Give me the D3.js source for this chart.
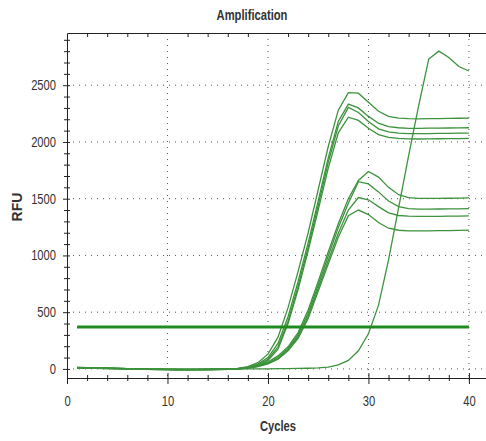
<!DOCTYPE html>
<html lang="en">
<head>
    <meta charset="UTF-8">
    <title>Amplification</title>
    <script src="https://d3js.org/d3.v7.min.js"></script>
    <style>
        body {
            margin: 0;
            background: #fff;
        }
        svg text {
            font-family: "Liberation Sans", Arial, sans-serif;
            fill: #333;
        }
        .grid line {
            stroke: #555;
            stroke-dasharray: 1, 5;
        }
        .axis path, .axis line {
            stroke: #222;
        }
        .curve {
            fill: none;
            stroke: #3d923d;
            stroke-width: 1.3;
        }
    </style>
</head>
<body>
    <svg id="chart" width="486" height="441"></svg>

    <script>
        // Cycle numbers (x values)
        const cycles = [1, 2, 3, 4, 5, 6, 7, 8, 9, 10, 11, 12, 13, 14, 15, 16, 17, 18, 19, 20,
                        21, 22, 23, 24, 25, 26, 27, 28, 29, 30, 31, 32, 33, 34, 35, 36, 37, 38, 39, 40];

        // Early group (plateau ~2000-2200)
        const curveA1 = [10, 9, 8, 6, 4, 2, 0, -2, -4, -5, -6, -6, -6, -5, -4, -2,
                         5, 20, 55, 130, 280, 540, 860, 1200, 1580, 1960, 2280, 2435, 2430, 2350,
                         2270, 2225, 2210, 2205, 2204, 2205, 2206, 2207, 2209, 2210];
        const curveA2 = [14, 12, 10, 7, 5, 3, 1, -1, -3, -4, -5, -6, -5, -5, -3, -1,
                         3, 15, 42, 100, 225, 460, 770, 1110, 1480, 1860, 2180, 2333, 2300, 2225,
                         2165, 2135, 2125, 2120, 2120, 2121, 2122, 2123, 2124, 2125];
        const curveA3 = [8, 8, 7, 5, 3, 1, -1, -3, -4, -6, -7, -7, -7, -6, -5, -3,
                         2, 12, 35, 85, 195, 420, 730, 1070, 1440, 1820, 2140, 2305, 2260, 2180,
                         2115, 2088, 2078, 2074, 2073, 2074, 2075, 2076, 2077, 2078];
        const curveA4 = [12, 10, 8, 6, 4, 2, 0, -2, -3, -4, -5, -5, -5, -4, -3, -2,
                         1, 10, 30, 75, 175, 400, 700, 1040, 1400, 1770, 2080, 2218, 2190, 2120,
                         2065, 2040, 2031, 2027, 2026, 2027, 2028, 2029, 2030, 2031];

        // Middle group (plateau ~1200-1500)
        const curveB1 = [9, 8, 6, 4, 2, 0, -2, -3, -5, -6, -6, -7, -6, -5, -4, -2,
                         2, 12, 30, 60, 115, 195, 320, 520, 770, 1030, 1280, 1500, 1660, 1740,
                         1690, 1600, 1535, 1510, 1503, 1502, 1503, 1504, 1505, 1507];
        const curveB2 = [11, 10, 8, 6, 4, 2, 0, -1, -3, -4, -5, -5, -5, -4, -3, -1,
                         1, 10, 25, 52, 100, 180, 300, 490, 740, 995, 1245, 1460, 1650, 1630,
                         1560, 1480, 1430, 1413, 1408, 1408, 1409, 1410, 1411, 1412];
        const curveB3 = [7, 6, 5, 3, 1, -1, -3, -4, -6, -7, -8, -8, -7, -6, -5, -3,
                         1, 8, 22, 48, 90, 170, 285, 465, 710, 955, 1195, 1400, 1510, 1490,
                         1430, 1375, 1352, 1346, 1344, 1344, 1345, 1346, 1347, 1348];
        const curveB4 = [13, 11, 9, 7, 5, 3, 1, -1, -2, -3, -4, -4, -4, -3, -2, -1,
                         1, 8, 20, 44, 85, 160, 270, 445, 685, 925, 1160, 1350, 1400, 1360,
                         1290, 1240, 1222, 1217, 1216, 1217, 1218, 1219, 1221, 1223];

        // Late sample
        const curveLate = [5, 5, 4, 3, 2, 1, 0, -1, -2, -3, -3, -3, -3, -2, -2, -1,
                           -1, 0, 0, 1, 2, 3, 4, 6, 9, 15, 35, 75, 160, 310,
                           560, 960, 1420, 1880, 2320, 2730, 2800, 2745, 2665, 2625];

        const seriesList = [curveA1, curveA2, curveA3, curveA4, curveB1, curveB2, curveB3, curveB4, curveLate];

        // Threshold line
        const thresholdValue = 370;
        const thresholdCycles = [1, 40];

        // Tick values
        const xMajorTicks = [0, 10, 20, 30, 40];
        const xMinorTicks = [2, 4, 6, 8, 12, 14, 16, 18, 22, 24, 26, 28, 32, 34, 36, 38, 40];
        const yMajorTicks = [0, 500, 1000, 1500, 2000, 2500];
        const yMinorTicks = [100, 200, 300, 400, 600, 700, 800, 900, 1100, 1200, 1300, 1400,
                             1600, 1700, 1800, 1900, 2100, 2200, 2300, 2400, 2600, 2700, 2800, 2900];

        const plotLeft = 67, plotRight = 486, plotTop = 33, plotBottom = 378;
        const narrow = 0.8; // horizontal squeeze for the condensed look of the labels

        const x = d3.scaleLinear().domain([0, 41.7]).range([plotLeft, plotRight]);
        const y = d3.scaleLinear().domain([-80, 2960]).range([plotBottom, plotTop]);

        const svg = d3.select("#chart");

        // Dotted grid
        const grid = svg.append("g").attr("class", "grid");
        grid.selectAll("line.v")
            .data(xMajorTicks.slice(1))
            .enter().append("line")
            .attr("x1", d => x(d)).attr("x2", d => x(d))
            .attr("y1", plotTop).attr("y2", plotBottom);
        grid.selectAll("line.h")
            .data(yMajorTicks)
            .enter().append("line")
            .attr("x1", plotLeft).attr("x2", plotRight)
            .attr("y1", d => y(d)).attr("y2", d => y(d));

        // Top frame line with small ticks
        svg.append("g")
            .attr("class", "axis")
            .attr("transform", `translate(0,${plotTop})`)
            .call(d3.axisBottom(x).tickValues(xMinorTicks).tickSize(4).tickFormat("").tickSizeOuter(0));

        // Minor ticks crossing the axes
        svg.append("g")
            .attr("class", "axis")
            .attr("transform", `translate(0,${plotBottom - 3})`)
            .call(d3.axisBottom(x).tickValues(xMinorTicks).tickSize(6).tickFormat(""))
            .select(".domain").remove();
        svg.append("g")
            .attr("class", "axis")
            .attr("transform", `translate(${plotLeft + 3},0)`)
            .call(d3.axisLeft(y).tickValues(yMinorTicks).tickSize(6).tickFormat(""))
            .select(".domain").remove();

        // Bottom axis with labels
        const xAxis = svg.append("g")
            .attr("class", "axis")
            .attr("transform", `translate(0,${plotBottom})`)
            .call(d3.axisBottom(x).tickValues(xMajorTicks).tickSize(6).tickPadding(12)
                .tickFormat(d3.format("d")).tickSizeOuter(0));
        xAxis.selectAll(".tick line").attr("y1", -5);
        xAxis.selectAll("text")
            .style("font-size", "14px")
            .attr("transform", `scale(${narrow},1)`);

        // Left axis with labels
        const yAxis = svg.append("g")
            .attr("class", "axis")
            .attr("transform", `translate(${plotLeft},0)`)
            .call(d3.axisLeft(y).tickValues(yMajorTicks).tickSize(4).tickPadding(7)
                .tickFormat(d3.format("d")).tickSizeOuter(0));
        yAxis.selectAll(".tick line").attr("x1", 3);
        yAxis.selectAll("text")
            .style("font-size", "14px")
            .attr("x", -11 / narrow)
            .attr("transform", `scale(${narrow},1)`);

        // Amplification curves
        const line = d3.line()
            .x((d, i) => x(cycles[i]))
            .y(d => y(d));

        svg.selectAll("path.curve")
            .data(seriesList)
            .enter().append("path")
            .attr("class", "curve")
            .attr("d", line);

        // Threshold
        svg.append("line")
            .attr("x1", x(thresholdCycles[0]))
            .attr("x2", x(thresholdCycles[1]))
            .attr("y1", y(thresholdValue))
            .attr("y2", y(thresholdValue))
            .attr("stroke", "#1f8a1f")
            .attr("stroke-width", 3);

        // Titles
        svg.append("text")
            .attr("transform", `translate(252,20) scale(${narrow},1)`)
            .attr("text-anchor", "middle")
            .style("font-size", "14px").style("font-weight", "bold")
            .text("Amplification");

        svg.append("text")
            .attr("transform", `translate(278,431) scale(${narrow},1)`)
            .attr("text-anchor", "middle")
            .style("font-size", "14px").style("font-weight", "bold")
            .text("Cycles");

        svg.append("text")
            .attr("transform", "translate(22,207) rotate(-90)")
            .attr("text-anchor", "middle")
            .style("font-size", "14px").style("font-weight", "bold")
            .text("RFU");
    </script>
</body>
</html>
